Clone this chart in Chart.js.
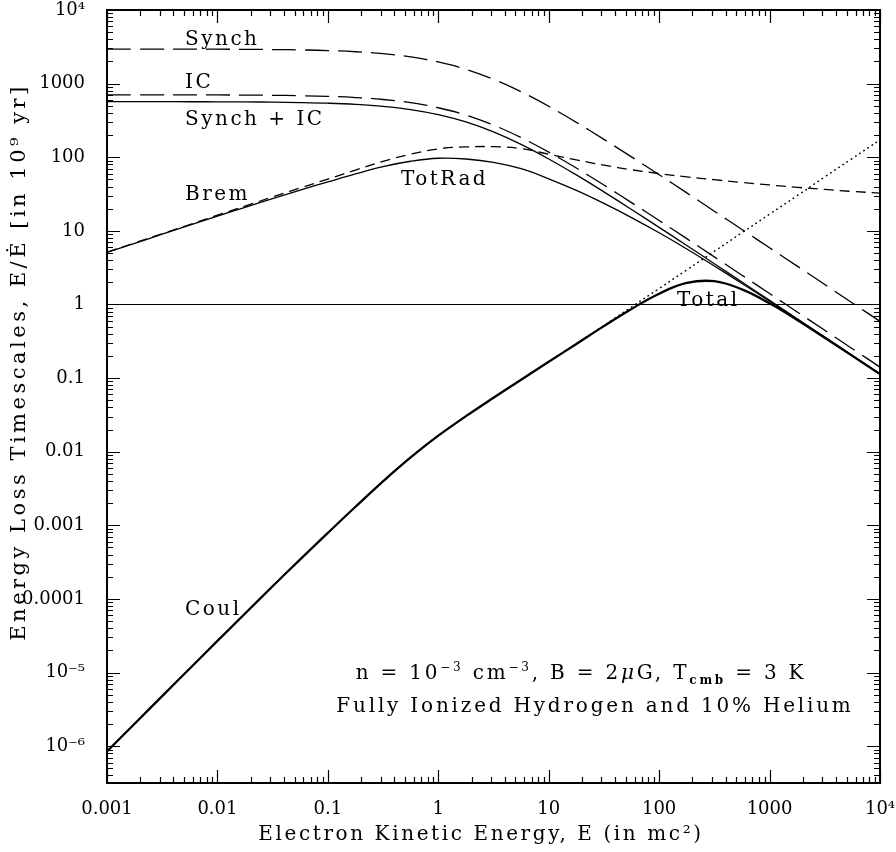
<!DOCTYPE html>
<html>
<head>
<meta charset="utf-8">
<script src="https://cdn.jsdelivr.net/npm/chart.js@4.4.1/dist/chart.umd.min.js"></script>
<style>
  body { margin:0; background:#fff; }
  canvas { display:block; }
</style>
</head>
<body>
<canvas id="chart" width="896" height="852"></canvas>
<script>
// electron kinetic energy, in mc^2 (quarter decades)
const energies = [0.001, 0.00178, 0.00316, 0.00562, 0.01, 0.0178, 0.0316, 0.0562, 0.1, 0.178, 0.316, 0.562,
  1, 1.78, 3.16, 5.62, 10, 17.8, 31.6, 56.2, 100, 178, 316, 562, 1000, 1780, 3160, 5620, 10000];

// loss timescales, in 1e9 yr
const synch = [2949, 2947, 2945, 2942, 2935, 2924, 2904, 2869, 2810, 2709, 2547, 2303,
  1967, 1562, 1143, 774, 492, 298, 175, 101, 57.8, 32.8, 18.5, 10.45, 5.89, 3.32, 1.865, 1.049, 0.590];
const ic = [704.6, 704.4, 703.9, 703.0, 701.5, 698.8, 694.0, 685.7, 671.4, 647.1, 608.6, 550.4,
  470, 373.2, 273.1, 185.0, 117.5, 71.3, 41.9, 24.2, 13.82, 7.84, 4.43, 2.50, 1.407, 0.792, 0.446, 0.251, 0.141];
const synchIC = [568.7, 568.5, 568.1, 567.4, 566.2, 564.0, 560.1, 553.4, 541.9, 522.3, 491.2, 444.2,
  379.3, 301.2, 220.5, 149.3, 94.8, 57.5, 33.8, 19.54, 11.16, 6.33, 3.58, 2.02, 1.136, 0.639, 0.360, 0.202, 0.1138];
const brem = [5.15, 6.85, 9.15, 12.2, 16.3, 21.7, 28.9, 38.3, 50.5, 67, 88, 110,
  130, 138, 139, 131, 110, 92, 78, 67.5, 60, 54, 49.5, 45.5, 42, 39, 36.5, 34.3, 32.6];
const totRad = [5.10, 6.77, 9.00, 11.94, 15.84, 20.90, 27.48, 35.82, 46.19, 59.38, 74.63, 88.17,
  96.82, 94.64, 85.26, 69.78, 50.92, 35.38, 23.58, 15.15, 9.41, 5.67, 3.335, 1.931, 1.106, 0.629, 0.356, 0.201, 0.1134];
const coul = [8.51e-7, 2.02e-6, 4.79e-6, 1.135e-5, 2.69e-5, 6.35e-5, 1.488e-4, 3.45e-4, 7.90e-4, 1.789e-3, 3.96e-3, 8.37e-3,
  0.0165, 0.0304, 0.0540, 0.0950, 0.167, 0.2935, 0.519, 0.923, 1.648, 2.951, 5.27, 9.44, 16.87, 30.1, 54.0, 96.4, 172];
const total = [8.51e-7, 2.02e-6, 4.79e-6, 1.135e-5, 2.69e-5, 6.35e-5, 1.488e-4, 3.45e-4, 7.90e-4, 1.789e-3, 3.96e-3, 8.37e-3,
  0.0165, 0.0304, 0.0540, 0.0949, 0.1665, 0.2911, 0.508, 0.870, 1.402, 1.96, 2.07, 1.603, 1.038, 0.616, 0.3537, 0.2006, 0.1133];
const unityLevel = 1;

const xTickValues = [0.001, 0.01, 0.1, 1, 10, 100, 1000, 10000];
const xTickLabels = ['0.001', '0.01', '0.1', '1', '10', '100', '1000', '10⁴'];
const yTickValues = [1e-6, 1e-5, 1e-4, 1e-3, 0.01, 0.1, 1, 10, 100, 1000, 1e4];
const yTickLabels = ['10⁻⁶', '10⁻⁵', '0.0001', '0.001', '0.01', '0.1', '1', '10', '100', '1000', '10⁴'];

const SERIF = '"DejaVu Serif", serif';
const pts = arr => energies.map((e, i) => ({x: e, y: arr[i]}));

function line(data, width, dash, extra) {
  return Object.assign({data, borderColor: '#000', borderWidth: width, borderDash: dash,
    pointRadius: 0, fill: false, tension: 0.4}, extra || {});
}

function text(ctx, str, x, y, size, spacing) {
  ctx.font = size + 'px ' + SERIF;
  ctx.letterSpacing = spacing + 'px';
  ctx.fillText(str, x, y);
}

// inward ticks on all four sides + frame + annotations
const decorPlugin = {
  id: 'decor',
  afterDraw(chart) {
    const {ctx, chartArea: a, scales: {x, y}} = chart;
    ctx.save();
    ctx.strokeStyle = '#000';
    ctx.lineWidth = 1.2;
    ctx.beginPath();
    for (let d = -3; d <= 4; d++) {
      for (let m = 1; m <= 9; m++) {
        const v = m * Math.pow(10, d);
        if (v < x.min * 0.999 || v > x.max * 1.001) continue;
        const px = Math.round(x.getPixelForValue(v)) + 0.5;
        const len = m === 1 ? 13 : 6;
        ctx.moveTo(px, a.bottom); ctx.lineTo(px, a.bottom - len);
        ctx.moveTo(px, a.top); ctx.lineTo(px, a.top + len);
      }
    }
    for (let d = -7; d <= 4; d++) {
      for (let m = 1; m <= 9; m++) {
        const v = m * Math.pow(10, d);
        if (v < y.min * 0.999 || v > y.max * 1.001) continue;
        const py = Math.round(y.getPixelForValue(v)) + 0.5;
        const len = m === 1 ? 13 : 6;
        ctx.moveTo(a.left, py); ctx.lineTo(a.left + len, py);
        ctx.moveTo(a.right, py); ctx.lineTo(a.right - len, py);
      }
    }
    ctx.stroke();
    ctx.lineWidth = 2;
    ctx.strokeRect(a.left, a.top, a.right - a.left, a.bottom - a.top);

    ctx.fillStyle = '#000';
    ctx.textBaseline = 'alphabetic';
    ctx.textAlign = 'left';
    text(ctx, 'Synch', 185, 45, 20, 2.5);
    text(ctx, 'IC', 185, 88, 20, 2.5);
    text(ctx, 'Synch + IC', 185, 125, 20, 2.5);
    text(ctx, 'Brem', 185, 200, 20, 2.5);
    text(ctx, 'TotRad', 401, 185, 20, 2.5);
    text(ctx, 'Total', 677, 306, 20, 2.5);
    text(ctx, 'Coul', 185, 615, 20, 2.5);

    // parameter lines
    ctx.letterSpacing = '2.8px';
    const runs = [
      {t: 'n = 10', f: '20px ' + SERIF, dy: 0},
      {t: '−3', f: '12px ' + SERIF, dy: -8},
      {t: ' cm', f: '20px ' + SERIF, dy: 0},
      {t: '−3', f: '12px ' + SERIF, dy: -8},
      {t: ', B = 2', f: '20px ' + SERIF, dy: 0},
      {t: 'μ', f: 'italic 20px ' + SERIF, dy: 0},
      {t: 'G, T', f: '20px ' + SERIF, dy: 0},
      {t: 'cmb', f: 'bold 12px ' + SERIF, dy: 5},
      {t: ' = 3 K', f: '20px ' + SERIF, dy: 0}
    ];
    let w = 0;
    runs.forEach(r => { ctx.font = r.f; r.w = ctx.measureText(r.t).width; w += r.w; });
    let cx = 581 - w / 2;
    runs.forEach(r => { ctx.font = r.f; ctx.fillText(r.t, cx, 679 + r.dy); cx += r.w; });
    ctx.textAlign = 'center';
    text(ctx, 'Fully Ionized Hydrogen and 10% Helium', 595, 712, 20, 2.8);

    // axis titles
    text(ctx, 'Electron Kinetic Energy, E (in mc²)', 481, 840, 20, 2.6);
    ctx.translate(25, 362);
    ctx.rotate(-Math.PI / 2);
    text(ctx, 'Energy Loss Timescales, E/Ė [in 10⁹ yr]', 0, 0, 21, 3.5);
    ctx.restore();
  }
};

new Chart(document.getElementById('chart').getContext('2d'), {
  type: 'line',
  data: {
    datasets: [
      line([{x: energies[0], y: unityLevel}, {x: energies[energies.length - 1], y: unityLevel}], 1.2, [], {tension: 0}),
      line(pts(synch), 1.3, [24, 9]),
      line(pts(ic), 1.3, [24, 9]),
      line(pts(synchIC), 1.3, []),
      line(pts(brem), 1.3, [10, 6]),
      line(pts(totRad), 1.3, []),
      line(pts(coul), 1.5, [0.5, 4.5], {borderCapStyle: 'round'}),
      line(pts(total), 2.3, [])
    ]
  },
  options: {
    responsive: false,
    animation: false,
    layout: {padding: {top: 10, right: 16, left: 0, bottom: 0}},
    plugins: {legend: {display: false}, tooltip: {enabled: false}},
    scales: {
      x: {
        type: 'logarithmic', min: 0.001, max: 10000,
        grid: {display: false}, border: {display: false},
        afterBuildTicks: s => { s.ticks = xTickValues.map(v => ({value: v})); },
        afterFit: s => { s.height = 69; s.paddingLeft = 0; s.paddingRight = 0; s.paddingTop = 0; s.paddingBottom = 0; },
        ticks: {color: '#000', font: {family: SERIF, size: 18}, padding: 8, maxRotation: 0, autoSkip: false,
          callback: (v, i) => xTickLabels[i]}
      },
      y: {
        type: 'logarithmic', min: 3.162e-7, max: 10000,
        grid: {display: false}, border: {display: false},
        afterBuildTicks: s => { s.ticks = yTickValues.map(v => ({value: v})); },
        afterFit: s => { s.width = 107; s.paddingLeft = 0; s.paddingRight = 0; s.paddingTop = 0; s.paddingBottom = 0; },
        ticks: {color: '#000', font: {family: SERIF, size: 18}, padding: 14, autoSkip: false,
          callback: (v, i) => yTickLabels[i]}
      }
    }
  },
  plugins: [decorPlugin]
});
</script>
</body>
</html>
